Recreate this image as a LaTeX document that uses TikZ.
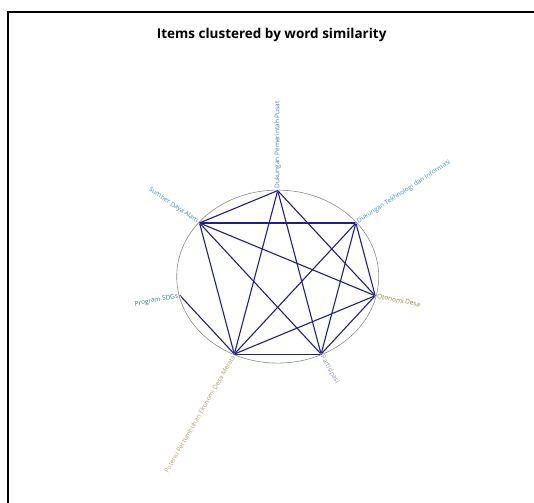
\documentclass[tikz,border=0pt]{standalone}
\usepackage{fontspec}
\setmainfont{Open Sans}
\definecolor{linkblue}{HTML}{1E1E8C}
\definecolor{rimgray}{HTML}{8C8C8C}
\definecolor{skyblue}{HTML}{3D8FDC}
\definecolor{midblue}{HTML}{5274B8}
\definecolor{olivetxt}{HTML}{8B8B3A}
\definecolor{lavtxt}{HTML}{8A8AC8}
\definecolor{tantxt}{HTML}{B5A070}
\definecolor{tealtxt}{HTML}{2F7F80}
\tikzset{
  spot/.style={inner sep=0pt,minimum size=1.5pt,fill=linkblue,circle},
  link/.style={draw=linkblue,line width=1.1pt},
  lbl/.style={inner sep=2pt,font=\fontsize{6.5}{7}\selectfont}
}
\begin{document}
\begin{tikzpicture}[x=1pt,y=1pt]
\useasboundingbox (-277.7,-225.4) rectangle (256.3,276.6);
\draw[line width=1.2pt] (-269.7,-230) -- (-269.7,264.6) -- (260,264.6);
\node[font=\bfseries\fontsize{13.5}{15}\selectfont] (title) at (-6,242) {Items clustered by word similarity};
\draw[rimgray,line width=.6pt] (0,0) ellipse (101pt and 86.5pt);
% items round the ellipse
\foreach \a/\n in {90/dpp,38.57/dti,-12.86/otd,-64.29/par,-115.71/pot,-167.14/sdg,141.43/sda}
  \node[spot] (\n) at (\a:100pt and 86pt) {};
\foreach \n/\r/\an/\c/\t in {dpp/90/west/midblue/Dukungan Pemerintah Pusat,
    dti/33/west/skyblue/Dukungan Tekhnologi dan Informasi,
    otd/-11/west/olivetxt/Otonomi Desa,
    par/-61/west/lavtxt/Partisipasi,
    pot/60/east/tantxt/Potensi Pertumbuhan Ekonomi Desa Merata,
    sdg/11/east/tealtxt/Program SDGs,
    sda/-34/east/skyblue/Sumber Daya Alam}
  \node[lbl,text=\c,rotate=\r,anchor=\an] (\n-txt) at (\n) {\t};
\foreach \p/\q in {dpp/sda,dpp/pot,dpp/par,dpp/otd,sda/dti,sda/otd,sda/par,sda/pot,
    dti/pot,dti/par,dti/otd,otd/pot,otd/par,pot/par,sdg/pot}
  \draw[link] (\p)--(\q);
\end{tikzpicture}
\end{document}
